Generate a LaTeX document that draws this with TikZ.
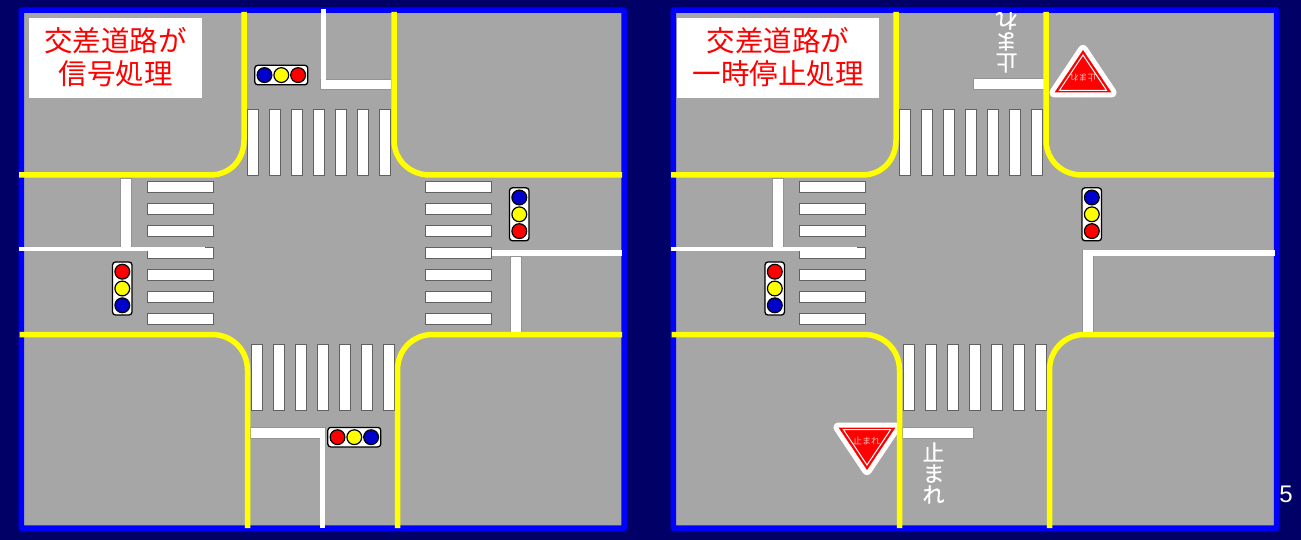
\documentclass[tikz,border=0pt]{standalone}
\usepackage{fontspec}
\setmainfont{Liberation Sans}
\newfontfamily\cjk{Noto Sans CJK JP}
\newfontfamily\cjkheavy[FakeBold=0.6]{Noto Sans CJK JP}
\definecolor{navybg}{HTML}{000066}
\definecolor{roadgray}{HTML}{A6A6A6}
\definecolor{edgeblue}{HTML}{0000FF}
\definecolor{sigblue}{HTML}{0000CC}
\definecolor{pinktext}{HTML}{FFB8B8}
\definecolor{lineyellow}{HTML}{FFFF00}
\definecolor{purered}{HTML}{FF0000}
\tikzset{
  panel/.style={fill=roadgray,draw=edgeblue,line width=5.5pt,rounded corners=0.5pt},
  curb/.style={draw=lineyellow,line width=5.5pt,line cap=butt,line join=round},
  stripe/.style={fill=white,draw=black!62,line width=0.7pt},
  paint/.style={fill=white,draw=none},
  bar/.style={fill=white,draw=black!42,line width=0.6pt},
  sigbody/.style={fill=white,draw=black,line width=1.3pt,rounded corners=3pt},
  lamp/.style={draw=black,line width=1.2pt},
  title/.style={text=purered,font=\cjk\fontsize{28.5}{33}\selectfont,align=center,inner sep=0pt},
  roadtext/.style={text=white,font=\cjkheavy\fontsize{22}{21}\selectfont,align=center,inner sep=0pt},
  signtext/.style={text=pinktext,font=\cjk\fontsize{9}{9}\selectfont,inner sep=0pt}
}
\newcommand\sigH[5]{%
  \draw[sigbody] (#1,#2) rectangle ++(53,19.5);
  \draw[lamp,fill=#3] (#1+9.7,#2+9.8) circle (7.4pt);
  \draw[lamp,fill=#4] (#1+26.5,#2+9.8) circle (7.4pt);
  \draw[lamp,fill=#5] (#1+43.3,#2+9.8) circle (7.4pt);}
\newcommand\sigV[5]{%
  \draw[sigbody] (#1,#2) rectangle ++(19.5,53);
  \draw[lamp,fill=#3] (#1+9.8,#2+9.7) circle (7.4pt);
  \draw[lamp,fill=#4] (#1+9.8,#2+26.5) circle (7.4pt);
  \draw[lamp,fill=#5] (#1+9.8,#2+43.3) circle (7.4pt);}
% markings shared by both panels; #1 = x offset
\newcommand\crossing[1]{%
  \begin{scope}[xshift=#1pt]
  \draw[bar] (120.7,178) rectangle (131,247);
  \foreach \x in {247.3,269.3,291.3,313.3,335.3,357.3,379.3}
    \draw[stripe] (\x,109.5) rectangle ++(11,66);
  \foreach \x in {251.3,273.3,295.3,317.3,339.3,361.3,383.3}
    \draw[stripe] (\x,344) rectangle ++(11,66.3);
  \foreach \y in {181.3,203.3,225.3,247.3,269.3,291.3,313.3}
    \draw[stripe] (147.5,\y) rectangle ++(66,11);
  \fill[paint] (19,246.5) rectangle (204.5,251.3);
  \end{scope}}
\newcommand\curbs[1]{%
  \begin{scope}[xshift=#1pt]
  \draw[curb] (244,12) -- (244,140) .. controls (244,160) and (230,175) .. (210,175) -- (19,175);
  \draw[curb] (394,12) -- (394,140) .. controls (394,160) and (410,175) .. (430,175) -- (622,175);
  \draw[curb] (19.5,334.5) -- (212,334.5) .. controls (232,334.5) and (247.5,350) .. (247.5,370) -- (247.5,528);
  \draw[curb] (622,334.5) -- (432.5,334.5) .. controls (413,334.5) and (397.5,350) .. (397.5,370) -- (397.5,528);
  \end{scope}}
\newcommand\yieldsign[3]{%
  \begin{scope}[shift={(#1,#2)},yscale=#3]
  \draw[fill=white,draw=white,line width=10pt,line join=round] (-28.5,0) -- (28.5,0) -- (0,42.5) -- cycle;
  \fill[purered] (-28.5,0) -- (28.5,0) -- (0,42.5) -- cycle;
  \draw[white,line width=1pt] (-23.5,2.2) -- (23.5,2.2) -- (0,37.5) -- cycle;
  \end{scope}}
\begin{document}
\begin{tikzpicture}[x=1pt,y=-1pt]
\useasboundingbox (0,0) rectangle (1301,540);
\fill[navybg] (0,0) rectangle (1301,540);
\draw[panel] (21.3,10.2) rectangle (624.2,528);
\draw[panel] (673.3,10.2) rectangle (1276.7,528);
% left panel
\crossing{0}
\foreach \y in {181.3,203.3,225.3,247.3,269.3,291.3,313.3}
  \draw[stripe] (425.5,\y) rectangle ++(66,11);
\draw[bar] (320.7,79) rectangle (391,89);
\fill[paint] (320.7,9) rectangle (325.5,88.6);
\fill[paint] (491.5,250) rectangle (622,256);
\draw[bar] (510.7,256) rectangle (521.3,332);
\draw[bar] (250,427.3) rectangle (325.3,438.7);
\fill[paint] (320,427.7) rectangle (325.3,528);
\curbs{0}
\sigH{254.8}{65.3}{sigblue}{lineyellow}{purered}
\sigV{509.5}{187.8}{sigblue}{lineyellow}{purered}
\sigH{327.8}{427.4}{purered}{lineyellow}{sigblue}
\sigV{112.5}{262}{purered}{lineyellow}{sigblue}
\fill[white] (29,18) rectangle (202,98);
\node[title] (titleL) at (115.5,57.5) {交差道路が\\信号処理};
% right panel
\crossing{652}
\draw[bar] (973.3,78.5) rectangle (1044,89.3);
\draw[bar] (902.7,427.7) rectangle (973.3,438.7);
\draw[bar] (1082.7,250) rectangle (1093,332);
\fill[paint] (1082.7,250) rectangle (1275,256);
\yieldsign{1083}{92.5}{-1}
\yieldsign{867}{427.5}{1}
\curbs{652}
\sigV{1082}{187.8}{sigblue}{lineyellow}{purered}
\sigV{765}{262}{purered}{lineyellow}{sigblue}
\node[signtext] (signB) at (866.7,441) {止まれ};
\node[signtext,rotate=180] (signT) at (1083,78.5) {止まれ};
\node[roadtext] (roadB) at (933.5,473) {止\\ま\\れ};
\begin{scope}
\clip (980,12.7) rectangle (1040,80);
\node[roadtext,rotate=180] (roadT) at (1006.5,42) {止\\ま\\れ};
\end{scope}
\fill[white] (677,18) rectangle (879,98);
\node[title] (titleR) at (778,57.5) {交差道路が\\一時停止処理};
\node[text=white,font=\fontsize{24}{24}\selectfont,inner sep=0pt] (pg) at (1286,494) {5};
\end{tikzpicture}
\end{document}
